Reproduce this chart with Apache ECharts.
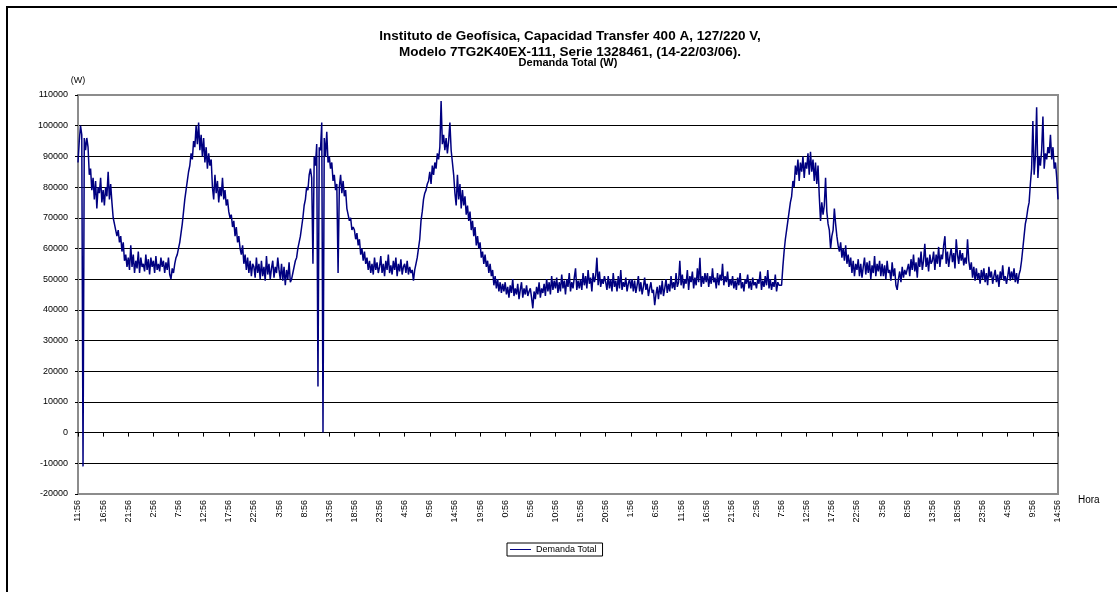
<!DOCTYPE html>
<html><head><meta charset="utf-8">
<style>html,body{margin:0;padding:0;background:#fff}#c{width:1117px;height:592px}</style>
<script src="https://cdn.jsdelivr.net/npm/echarts@6/dist/echarts.min.js"></script>
</head><body><div id="c"></div>
<script>
const titleLines = [
  'Instituto de Geofísica, Capacidad Transfer 400 A, 127/220 V,',
  'Modelo 7TG2K40EX-111, Serie 1328461, (14-22/03/06).',
  'Demanda Total (W)'
];
const yName = '(W)';
const xName = 'Hora';
const seriesName = 'Demanda Total';
const tickLabels = ['11:56','16:56','21:56','2:56','7:56','12:56','17:56','22:56','3:56','8:56',
  '13:56','18:56','23:56','4:56','9:56','14:56','19:56','0:56','5:56','10:56',
  '15:56','20:56','1:56','6:56','11:56','16:56','21:56','2:56','7:56','12:56',
  '17:56','22:56','3:56','8:56','13:56','18:56','23:56','4:56','9:56','14:56'];
const hoursPerTick = 5;
const stepHours = 0.25; // one reading every 15 minutes
const demanda = [
  88000,95000,100000,97000,-11000,96000,92000,96000,93000,84000,86000,79000,83000,76000,82000,73000,80000,78000,83000,75000,
  79000,74000,80000,77000,85000,76000,81000,75000,70000,68000,66000,64000,66000,62000,64000,59000,62000,56000,58000,54000,
  57000,53000,61000,54000,58000,52000,56000,53500,59000,52000,57000,54000,55000,52500,58000,53000,56500,51500,57000,54000,
  56000,52000,57500,53000,55000,52500,57000,54000,56000,52000,55500,53000,57000,51500,50000,53500,52000,55000,57000,58000,
  60000,62000,65000,68000,72000,76000,79000,82000,85000,87000,91000,89000,95000,93000,100000,94000,101000,92000,97000,90000,
  96000,88000,93000,86000,91000,87000,89000,80000,76000,84000,78000,82000,75000,80000,77000,83000,76000,79000,74000,76000,
  72000,70000,71000,67000,69000,64000,67000,62000,64000,60000,58000,61000,55000,58000,53000,57000,52000,56000,51000,55000,
  54000,50500,57000,52000,55000,50000,56000,51000,54000,49500,57500,51500,55000,50000,53500,56000,50500,54000,52000,57000,
  53000,50000,55000,49500,54000,48000,53000,50000,55500,49000,50000,52000,54000,56000,57000,60000,62000,64000,67000,70000,
  74000,76000,80000,79000,84000,86000,83000,55000,90000,87000,94000,15000,93000,92000,101000,0,96000,90000,98000,88000,
  90000,86000,88000,82000,84000,79000,81000,52000,80000,84000,78000,82000,77000,79000,73000,71000,69000,70000,66000,67000,
  66000,63000,65000,61000,63000,58000,60000,56000,59000,55000,57000,53000,56000,52000,55000,51500,57000,53000,55500,52000,
  54000,57500,52000,55000,51000,56000,53000,58000,52000,54500,51500,56000,53000,57000,51000,55000,52500,56500,51500,54000,
  55000,52000,56000,51500,54000,52000,53000,49500,53000,55000,57000,60000,63000,69000,72000,76000,78000,79000,81000,82000,
  85000,81000,87000,84000,88000,86000,91000,89000,93000,108000,94000,97000,92000,96000,91000,95000,101000,92000,88000,84000,
  78000,74000,84000,76000,81000,73000,79000,74000,77000,71000,74000,69000,72000,66000,69000,64000,67000,61000,64000,60000,
  62000,57000,59000,55000,58000,54000,56000,52000,55000,51000,53000,48000,51000,47000,50000,46000,49000,45500,48500,46000,
  49000,45000,47500,44000,48000,45500,50000,44500,47000,45000,48500,43500,46500,49000,44000,47000,45000,48000,44500,46000,
  47000,44000,40500,46000,43500,47500,45000,49000,44000,47000,45500,48500,44500,50000,46000,49000,45000,51000,46500,49500,
  47000,50500,45500,49000,46000,51500,47000,49500,45000,50000,47500,52000,46000,49000,47000,50500,53500,46500,49500,47000,
  50000,46500,52000,48000,51000,47000,53000,48500,50500,46000,52000,49000,51000,57000,48000,52500,47500,50000,48500,51000,
  49000,46500,51000,47000,50000,46000,52000,47500,49500,46000,51000,47000,53000,46500,49000,47500,50500,46000,48500,50000,
  47000,50000,46000,49500,45500,48000,51000,46000,49000,45000,47500,50500,46500,48500,44500,47000,49000,45500,46500,41500,
  45000,47500,43500,48000,45000,49500,44500,47000,50000,45500,48500,46000,51000,47000,49000,46500,52000,47500,49000,56000,
  48000,51500,47000,50000,48500,53000,46500,51000,49000,52500,47000,50500,48000,53500,49000,57000,47500,51000,48500,52000,
  49000,52000,47500,51000,48500,53500,49000,50500,47000,52000,48000,51500,49500,55000,48000,51000,49000,52500,47500,50000,
  48000,51000,47000,49500,46500,50500,48000,52000,47000,49000,46000,50000,48500,51500,47000,49500,46500,50500,48000,49000,
  47000,50000,48500,52500,46500,49500,47500,51000,48000,53000,47000,50000,46500,49000,47500,51500,46000,49000,48000,47500,
  48000,54000,59000,63000,66000,69000,72000,75000,77000,82000,80000,87000,84000,89000,82000,88000,85000,90000,83000,88000,
  86000,91000,84000,91500,85000,89000,82000,88000,81000,87000,77000,69000,75000,71000,74000,83000,72000,68000,66000,60000,
  64000,66000,73000,68000,64000,61000,59000,62000,57000,60000,56000,61000,55000,58000,54000,57000,52000,56000,51000,55000,
  53000,56500,51000,55000,50500,54000,57000,51500,55500,52000,56000,50000,54500,52000,57500,51000,55000,52500,56000,51000,
  55000,51000,54500,50000,56000,52000,53000,49500,55500,51000,53500,48000,46500,50000,52500,49000,54000,50500,53000,51500,
  52000,55000,51000,56500,53000,58000,52500,55500,50500,57000,54000,59000,53000,56000,61500,54000,57000,52500,58000,55000,
  56000,59000,53000,58000,55000,60500,54000,58000,56500,61000,64000,55000,59000,54000,57500,60000,55500,58500,53500,63000,
  58000,55000,59500,56000,58500,54500,57000,55000,63000,56000,53000,55500,50500,54000,49500,53500,50000,52000,48500,53000,
  50000,53500,49000,52000,48000,54000,50500,52500,48500,51000,53000,49000,51500,47500,52500,50000,54500,49500,51000,48500,
  51000,54000,49500,52500,50000,53500,49000,52000,48500,51500,53000,56000,60000,64000,68000,70000,73000,75000,81000,86000,
  101500,84000,90000,106000,83000,90000,87000,92000,103000,86000,91000,89000,93000,91000,97000,89000,93000,86000,88000,83000,
  76000
];
const yMin = -20000, yMax = 110000, yStep = 10000;

const FONT = '"Liberation Sans", Arial, sans-serif';
const xMax = (tickLabels.length - 1) * hoursPerTick;
const points = demanda.map((v, i) => [i * stepHours, v]);
const nLines = (yMax - yMin) / yStep + 1;
const gridColors = [];
for (let i = 0; i < nLines; i++) gridColors.push(i === 0 || i === nLines - 1 ? '#8c8c8c' : '#000');

const chart = echarts.init(document.getElementById('c'), null, {renderer: 'canvas'});
chart.setOption({
  animation: false,
  backgroundColor: '#fff',
  textStyle: {fontFamily: FONT},
  graphic: [{
    type: 'rect', silent: true, z: -10,
    shape: {x: 7, y: 7, width: 1130, height: 600},
    style: {fill: null, stroke: '#000', lineWidth: 2}
  }],
  title: [
    {text: titleLines[0], left: 570, top: 28, textAlign: 'center', padding: 0,
     textStyle: {fontFamily: FONT, fontSize: 13.5, fontWeight: 'bold', color: '#000', lineHeight: 16}},
    {text: titleLines[1], left: 570, top: 44.5, textAlign: 'center', padding: 0,
     textStyle: {fontFamily: FONT, fontSize: 13.5, fontWeight: 'bold', color: '#000', lineHeight: 16}},
    {text: titleLines[2], left: 568, top: 57, textAlign: 'center', padding: 0,
     textStyle: {fontFamily: FONT, fontSize: 11, fontWeight: 'bold', color: '#000', lineHeight: 12}}
  ],
  legend: {
    left: 507, top: 543, padding: [1, 6, 1, 3], itemWidth: 21, itemHeight: 1,
    borderColor: '#000', borderWidth: 1, borderRadius: 0,
    textStyle: {fontFamily: FONT, fontSize: 9, color: '#000', lineHeight: 11},
    data: [{name: seriesName, icon: 'rect', itemStyle: {color: '#000080'}}]
  },
  grid: {left: 78, right: 59, top: 95, bottom: 98, show: true, borderColor: '#8c8c8c', borderWidth: 2, backgroundColor: 'transparent'},
  xAxis: [
    {type: 'value', min: 0, max: xMax, interval: hoursPerTick, position: 'bottom',
     axisLine: {show: true, onZero: false, lineStyle: {color: '#8c8c8c', width: 2}},
     axisTick: {show: false}, splitLine: {show: false},
     axisLabel: {rotate: 90, fontSize: 9, color: '#000', margin: 6, fontFamily: FONT,
       formatter: v => tickLabels[Math.round(v / hoursPerTick)]},
     name: xName, nameLocation: 'end', nameGap: 20,
     nameTextStyle: {fontSize: 10, color: '#000', fontFamily: FONT, verticalAlign: 'top', padding: [1, 0, 0, 0]}},
    {type: 'value', min: 0, max: xMax, interval: hoursPerTick, position: 'bottom',
     axisLine: {show: true, onZero: true, lineStyle: {color: '#000', width: 1}},
     axisTick: {show: true, length: 4, lineStyle: {color: '#000'}},
     axisLabel: {show: false}, splitLine: {show: false}}
  ],
  yAxis: {
    type: 'value', min: yMin, max: yMax, interval: yStep,
    axisLine: {show: true, onZero: false, lineStyle: {color: '#8c8c8c', width: 2}},
    axisTick: {show: true, length: 3, lineStyle: {color: '#000'}},
    axisLabel: {fontSize: 9, color: '#000', margin: 10, fontFamily: FONT, formatter: v => String(v)},
    splitLine: {show: true, lineStyle: {color: gridColors, width: 1}},
    name: yName, nameLocation: 'end', nameGap: 10,
    nameTextStyle: {fontSize: 9, color: '#000', align: 'center', fontFamily: FONT}
  },
  series: [{
    type: 'line', name: seriesName, data: points, xAxisIndex: 0,
    symbol: 'none', showSymbol: false, z: 3,
    lineStyle: {color: '#000080', width: 1.5},
    itemStyle: {color: '#000080'}
  }]
});
</script>
</body></html>
